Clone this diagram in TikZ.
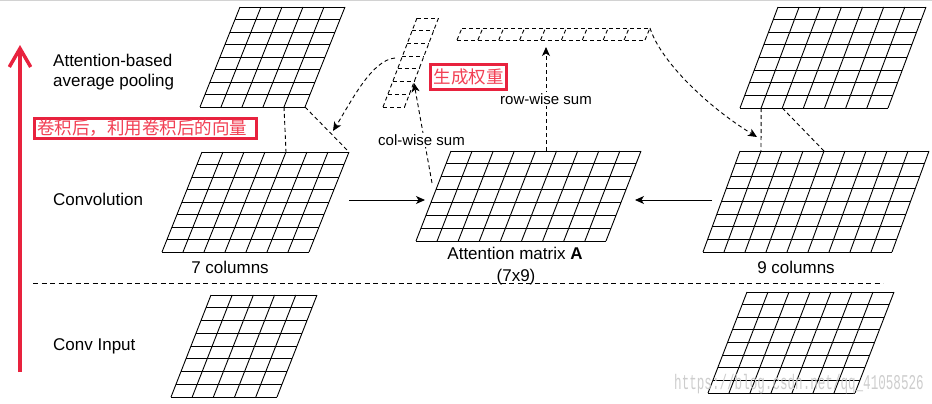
\documentclass[tikz,border=0pt]{standalone}
\usepackage{fontspec}
\setmainfont{Liberation Sans}
\newfontfamily\cjkfont{Noto Sans CJK SC}
\newfontfamily\wmfont{Liberation Mono}
\usetikzlibrary{arrows.meta,calc}
\definecolor{redbar}{RGB}{232,34,62}
\definecolor{cjkred}{RGB}{242,64,84}
\definecolor{wmgray}{RGB}{205,205,205}

% name, blx, bly, width, height, skew, cols, rows, style
\newcommand\mygrid[9]{%
  \coordinate (#1-bl) at (#2,#3);
  \coordinate (#1-br) at (#2+#4,#3);
  \coordinate (#1-tl) at (#2+#6,#3-#5);
  \coordinate (#1-tr) at (#2+#6+#4,#3-#5);
  \foreach \i [evaluate=\i as \f using \i/#8] in {0,...,#8}
    \draw[#9] ($(#1-bl)!\f!(#1-tl)$) -- ($(#1-br)!\f!(#1-tr)$);
  \foreach \j [evaluate=\j as \f using \j/#7] in {0,...,#7}
    \draw[#9] ($(#1-bl)!\f!(#1-br)$) -- ($(#1-tl)!\f!(#1-tr)$);
}

\begin{document}
\begin{tikzpicture}[x=1pt,y=-1pt,
  gl/.style={black, line width=0.9pt},
  dl/.style={black, line width=0.9pt, dash pattern=on 4pt off 3pt},
  dconn/.style={black, line width=0.9pt, dash pattern=on 4pt off 3pt},
  arr/.style={-{Stealth[length=9pt,width=8pt,inset=2.5pt]}},
  lbl/.style={font=\fontsize{17}{20}\selectfont, inner sep=0pt},
  slbl/.style={font=\fontsize{15}{18}\selectfont, inner sep=1.5pt, fill=white},
  redbox/.style={draw=redbar, line width=3pt, fill=white, text=cjkred,
    font=\cjkfont\fontsize{17.5}{20}\selectfont, inner sep=0pt},
]
\useasboundingbox (0,0) rectangle (932,404);
\draw[gray!35,line width=1pt] (0,0.5) -- (932,0.5);

% grids
\mygrid{poolL}{200}{107}{105}{100}{40}{5}{8}{gl}
\mygrid{convL}{162}{252}{147}{100}{40}{7}{8}{gl}
\mygrid{att}{416}{241}{190}{90}{35}{9}{7}{gl}
\mygrid{convR}{703}{252}{189}{101}{37}{9}{8}{gl}
\mygrid{poolR}{740}{108}{148}{101}{38}{7}{8}{gl}
\mygrid{inL}{171}{397}{106}{102}{40}{5}{8}{gl}
\mygrid{inR}{708}{393}{147}{101}{39}{7}{8}{gl}
\mygrid{colv}{383}{107}{21.5}{89}{34}{1}{7}{dl}
\mygrid{rowv}{457}{40}{188}{12}{5}{9}{1}{dl}

% projection lines
\draw[dconn] ($(poolL-bl)!4/5!(poolL-br)$) -- ($(convL-tl)!4/7!(convL-tr)$);
\draw[dconn] (poolL-br) -- (convL-tr);
\draw[dconn] ($(poolR-bl)!1/7!(poolR-br)$) -- ($(convR-tl)!1/9!(convR-tr)$);
\draw[dconn] ($(poolR-bl)!2/7!(poolR-br)$) -- ($(convR-tl)!4/9!(convR-tr)$);

% solid arrows
\coordinate (convLout) at (349,200);
\coordinate (attinL) at (425,200);
\coordinate (convRout) at (712,200);
\coordinate (attinR) at (635,200);
\draw[gl,arr] (convLout) -- (attinL);
\draw[gl,arr] (convRout) -- (attinR);

% row-wise sum
\coordinate (atttop) at ($(att-tl)!0.5!(att-tr)$);
\coordinate (rowtip) at (545.5,47);
\draw[dconn,arr] (atttop) -- (atttop |- rowtip);
\node[slbl, anchor=base] (rowlbl) at (546,104) {row-wise sum};

% col-wise sum
\coordinate (colstart) at (432,183);
\coordinate (coltip) at (414,83);
\draw[dconn,arr] (colstart) -- (coltip);
\node[slbl, anchor=base] (collbl) at (421.5,145) {col-wise sum};

% curved arrows
\coordinate (cvstart) at (395,58);
\coordinate (cvtipL) at (333,131);
\draw[dconn,arr] (cvstart) .. controls (372,60) and (352,100) .. (cvtipL);
\coordinate (cvtipR) at (757,137);
\draw[dconn,arr] (rowv-tr) .. controls (660,60) and (705,105) .. (cvtipR);

% separator
\coordinate (sepL) at (33,283);
\coordinate (sepR) at (883,283);
\draw[black, line width=0.9pt, dash pattern=on 5pt off 3.5pt] (sepL) -- (sepR);

% red arrow
\coordinate (rbot) at (20,372);
\coordinate (rtop) at (20,50);
\draw[redbar, line width=4pt] (rbot) -- (rtop);
\draw[redbar, line width=3.5pt, line join=miter] (9.3,67) -- (20,48.5) -- (30.7,67);

% labels
\node[lbl, anchor=west, align=left] (poollbl) at (53,72) {Attention-based\\average pooling};
\node[lbl, anchor=base west] (convlbl) at (53,205) {Convolution};
\node[lbl, anchor=base west] (inlbl) at (53,350) {Conv Input};
\node[lbl, anchor=base] (c7) at (230,273) {7 columns};
\node[lbl, anchor=base] (attlbl) at (515,259) {Attention matrix \textbf{A}};
\node[lbl, anchor=base] (attdim) at (516,281) {(7x9)};
\node[lbl, anchor=base] (c9) at (796,273) {9 columns};

% red boxes
\node[redbox, minimum width=222pt, minimum height=20pt, text width=216pt, align=left] (cn1) at (145.5,128.5) {卷积后，利用卷积后的向量};
\node[redbox, minimum width=75.5pt, minimum height=24.5pt] (cn2) at (468.5,77) {生成权重};

% watermark
\node[text=wmgray, font=\wmfont\fontsize{21}{21}\selectfont, inner sep=0pt] (wm) at (799,384) {\scalebox{0.6}[1]{https://blog.csdn.net/qq\_41058526}};
\end{tikzpicture}
\end{document}
